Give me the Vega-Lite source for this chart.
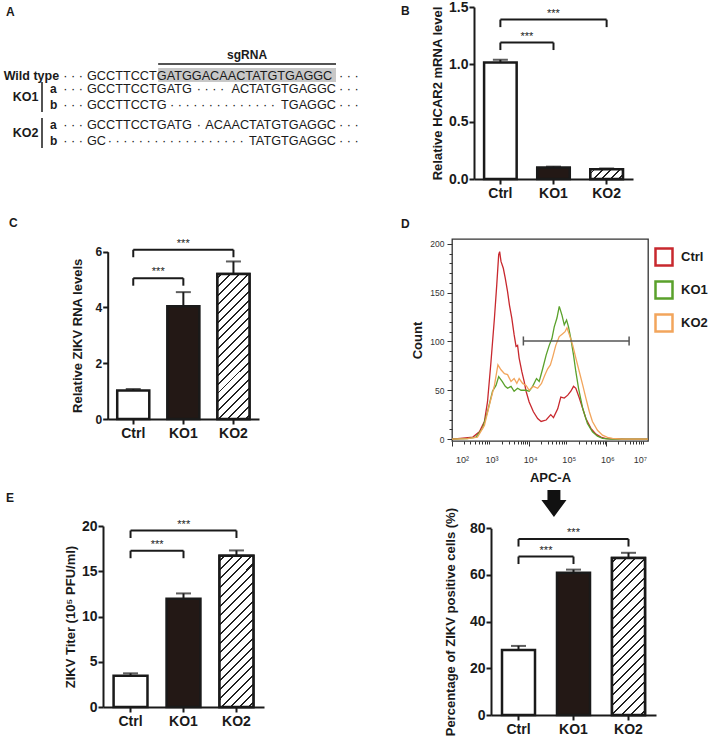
{
  "$schema": "https://vega.github.io/schema/vega-lite/v6.json",
  "padding": {"left": 3, "top": 0, "right": 0, "bottom": 0},
  "background": "white",
  "columns": 2,
  "bounds": "flush",
  "align": "each",
  "spacing": {"row": 60, "column": 91},
  "resolve": {"scale": {"color": "independent"}, "legend": {"color": "independent"}},
  "datasets": {
    "bars": [
      {"panel": "B", "group": "Ctrl", "mean": 1.015, "upper": 1.04},
      {"panel": "B", "group": "KO1", "mean": 0.1, "upper": 0.108},
      {"panel": "B", "group": "KO2", "mean": 0.084, "upper": 0.092},
      {"panel": "C", "group": "Ctrl", "mean": 1.02, "upper": 1.075},
      {"panel": "C", "group": "KO1", "mean": 4.04, "upper": 4.55},
      {"panel": "C", "group": "KO2", "mean": 5.2, "upper": 5.65},
      {"panel": "E", "group": "Ctrl", "mean": 3.45, "upper": 3.72},
      {"panel": "E", "group": "KO1", "mean": 11.95, "upper": 12.55},
      {"panel": "E", "group": "KO2", "mean": 16.7, "upper": 17.3},
      {"panel": "F", "group": "Ctrl", "mean": 27.8, "upper": 29.6},
      {"panel": "F", "group": "KO1", "mean": 61.0, "upper": 62.3},
      {"panel": "F", "group": "KO2", "mean": 67.3, "upper": 69.5}
    ],
    "sig": [
      {"panel": "B", "from": "Ctrl", "to": "KO1", "level": 1.19, "label": "***"},
      {"panel": "B", "from": "Ctrl", "to": "KO2", "level": 1.39, "label": "***"},
      {"panel": "C", "from": "Ctrl", "to": "KO1", "level": 5.05, "label": "***"},
      {"panel": "C", "from": "Ctrl", "to": "KO2", "level": 6.07, "label": "***"},
      {"panel": "E", "from": "Ctrl", "to": "KO1", "level": 17.27, "label": "***"},
      {"panel": "E", "from": "Ctrl", "to": "KO2", "level": 19.5, "label": "***"},
      {"panel": "F", "from": "Ctrl", "to": "KO1", "level": 67.9, "label": "***"},
      {"panel": "F", "from": "Ctrl", "to": "KO2", "level": 75.4, "label": "***"}
    ],
    "a_target": [{"name": "sgRNA", "start": 8, "end": 28, "mid": 18, "box_y": 75, "line_y": 64, "label_y": 55}],
    "a_lines": [{"y": 76}, {"y": 89}, {"y": 105}, {"y": 125}, {"y": 141}],
    "a_seq": [
      {"y": 76, "part": "5p", "nt": 0, "text": "GCCTTCCTGATGGACAACTATGTGAGGC"},
      {"y": 89, "part": "5p", "nt": 0, "text": "GCCTTCCTGATG"},
      {"y": 89, "part": "del", "nt": 12, "text": "· · · ·"},
      {"y": 89, "part": "3p", "nt": 28, "text": "ACTATGTGAGGC"},
      {"y": 105, "part": "5p", "nt": 0, "text": "GCCTTCCTG"},
      {"y": 105, "part": "del", "nt": 9, "text": "· · · · · · · · · · · · · ·"},
      {"y": 105, "part": "3p", "nt": 28, "text": "TGAGGC"},
      {"y": 125, "part": "5p", "nt": 0, "text": "GCCTTCCTGATG"},
      {"y": 125, "part": "del", "nt": 12, "text": "·"},
      {"y": 125, "part": "3p", "nt": 28, "text": "ACAACTATGTGAGGC"},
      {"y": 141, "part": "5p", "nt": 0, "text": "GC"},
      {"y": 141, "part": "del", "nt": 2, "text": "· · · · · · · · · · · · · · · · · ·"},
      {"y": 141, "part": "3p", "nt": 28, "text": "TATGTGAGGC"}
    ],
    "a_labels": [
      {"text": "A", "y": 12, "pos": -9.108, "kind": "panel"},
      {"text": "Wild type", "y": 76, "pos": -9.37, "kind": "line"},
      {"text": "KO1", "y": 97, "pos": -8.36, "kind": "line"},
      {"text": "KO2", "y": 133, "pos": -8.36, "kind": "line"},
      {"text": "a", "y": 89, "pos": -4.16, "kind": "allele"},
      {"text": "b", "y": 105, "pos": -4.16, "kind": "allele"},
      {"text": "a", "y": 125, "pos": -4.16, "kind": "allele"},
      {"text": "b", "y": 141, "pos": -4.16, "kind": "allele"}
    ],
    "a_bars": [{"pos": -5.06, "y1": 82, "y2": 112}, {"pos": -5.06, "y1": 118, "y2": 148}],
    "gate": [{"start": 3.85, "end": 6.59, "count": 100.5}],
    "arrow": [{"log_apc": 4.642, "count": -66}],
    "decades": [
      {"log_apc": 2, "label": "10²"},
      {"log_apc": 3, "label": "10³"},
      {"log_apc": 4, "label": "10⁴"},
      {"log_apc": 5, "label": "10⁵"},
      {"log_apc": 6, "label": "10⁶"},
      {"log_apc": 7, "label": "10⁷"}
    ],
    "hist": [
      {"sample": "Ctrl", "log_apc": 2.0, "count": 0},
      {"sample": "Ctrl", "log_apc": 2.28, "count": 1},
      {"sample": "Ctrl", "log_apc": 2.54, "count": 2},
      {"sample": "Ctrl", "log_apc": 2.71, "count": 7.5},
      {"sample": "Ctrl", "log_apc": 2.84, "count": 18},
      {"sample": "Ctrl", "log_apc": 2.92, "count": 38},
      {"sample": "Ctrl", "log_apc": 3.01, "count": 79},
      {"sample": "Ctrl", "log_apc": 3.1, "count": 124},
      {"sample": "Ctrl", "log_apc": 3.16, "count": 158},
      {"sample": "Ctrl", "log_apc": 3.21, "count": 189},
      {"sample": "Ctrl", "log_apc": 3.235, "count": 192},
      {"sample": "Ctrl", "log_apc": 3.27, "count": 182},
      {"sample": "Ctrl", "log_apc": 3.33, "count": 175},
      {"sample": "Ctrl", "log_apc": 3.38, "count": 165},
      {"sample": "Ctrl", "log_apc": 3.44, "count": 151},
      {"sample": "Ctrl", "log_apc": 3.49, "count": 137},
      {"sample": "Ctrl", "log_apc": 3.55, "count": 124},
      {"sample": "Ctrl", "log_apc": 3.61, "count": 107},
      {"sample": "Ctrl", "log_apc": 3.66, "count": 95},
      {"sample": "Ctrl", "log_apc": 3.7, "count": 96},
      {"sample": "Ctrl", "log_apc": 3.74, "count": 83},
      {"sample": "Ctrl", "log_apc": 3.81, "count": 69},
      {"sample": "Ctrl", "log_apc": 3.87, "count": 59},
      {"sample": "Ctrl", "log_apc": 3.92, "count": 49},
      {"sample": "Ctrl", "log_apc": 4.0, "count": 38},
      {"sample": "Ctrl", "log_apc": 4.11, "count": 28},
      {"sample": "Ctrl", "log_apc": 4.22, "count": 21},
      {"sample": "Ctrl", "log_apc": 4.31, "count": 18},
      {"sample": "Ctrl", "log_apc": 4.44, "count": 19.5},
      {"sample": "Ctrl", "log_apc": 4.56, "count": 25},
      {"sample": "Ctrl", "log_apc": 4.63, "count": 22},
      {"sample": "Ctrl", "log_apc": 4.74, "count": 31},
      {"sample": "Ctrl", "log_apc": 4.82, "count": 43},
      {"sample": "Ctrl", "log_apc": 4.91, "count": 42},
      {"sample": "Ctrl", "log_apc": 5.0, "count": 45},
      {"sample": "Ctrl", "log_apc": 5.08, "count": 49},
      {"sample": "Ctrl", "log_apc": 5.15, "count": 54},
      {"sample": "Ctrl", "log_apc": 5.21, "count": 52},
      {"sample": "Ctrl", "log_apc": 5.3, "count": 42},
      {"sample": "Ctrl", "log_apc": 5.39, "count": 31},
      {"sample": "Ctrl", "log_apc": 5.47, "count": 21},
      {"sample": "Ctrl", "log_apc": 5.6, "count": 11},
      {"sample": "Ctrl", "log_apc": 5.73, "count": 5},
      {"sample": "Ctrl", "log_apc": 5.86, "count": 2},
      {"sample": "Ctrl", "log_apc": 5.99, "count": 0.5},
      {"sample": "Ctrl", "log_apc": 6.5, "count": 0},
      {"sample": "Ctrl", "log_apc": 7.08, "count": 0},
      {"sample": "KO1", "log_apc": 2.0, "count": 0},
      {"sample": "KO1", "log_apc": 2.4, "count": 0.5},
      {"sample": "KO1", "log_apc": 2.62, "count": 2},
      {"sample": "KO1", "log_apc": 2.79, "count": 11},
      {"sample": "KO1", "log_apc": 2.92, "count": 28},
      {"sample": "KO1", "log_apc": 3.05, "count": 49},
      {"sample": "KO1", "log_apc": 3.14, "count": 55},
      {"sample": "KO1", "log_apc": 3.21, "count": 64},
      {"sample": "KO1", "log_apc": 3.3, "count": 59},
      {"sample": "KO1", "log_apc": 3.38, "count": 54},
      {"sample": "KO1", "log_apc": 3.44, "count": 52},
      {"sample": "KO1", "log_apc": 3.53, "count": 54},
      {"sample": "KO1", "log_apc": 3.61, "count": 49},
      {"sample": "KO1", "log_apc": 3.7, "count": 52},
      {"sample": "KO1", "log_apc": 3.79, "count": 50},
      {"sample": "KO1", "log_apc": 3.92, "count": 50},
      {"sample": "KO1", "log_apc": 4.0, "count": 49},
      {"sample": "KO1", "log_apc": 4.09, "count": 54},
      {"sample": "KO1", "log_apc": 4.19, "count": 62},
      {"sample": "KO1", "log_apc": 4.26, "count": 59},
      {"sample": "KO1", "log_apc": 4.35, "count": 72},
      {"sample": "KO1", "log_apc": 4.44, "count": 86},
      {"sample": "KO1", "log_apc": 4.52, "count": 96},
      {"sample": "KO1", "log_apc": 4.59, "count": 103},
      {"sample": "KO1", "log_apc": 4.65, "count": 115},
      {"sample": "KO1", "log_apc": 4.72, "count": 124},
      {"sample": "KO1", "log_apc": 4.78, "count": 136},
      {"sample": "KO1", "log_apc": 4.85, "count": 127},
      {"sample": "KO1", "log_apc": 4.91, "count": 117},
      {"sample": "KO1", "log_apc": 4.97, "count": 122},
      {"sample": "KO1", "log_apc": 5.02, "count": 115},
      {"sample": "KO1", "log_apc": 5.08, "count": 103},
      {"sample": "KO1", "log_apc": 5.15, "count": 86},
      {"sample": "KO1", "log_apc": 5.21, "count": 69},
      {"sample": "KO1", "log_apc": 5.28, "count": 52},
      {"sample": "KO1", "log_apc": 5.39, "count": 31},
      {"sample": "KO1", "log_apc": 5.51, "count": 16},
      {"sample": "KO1", "log_apc": 5.64, "count": 7.5},
      {"sample": "KO1", "log_apc": 5.77, "count": 3},
      {"sample": "KO1", "log_apc": 5.9, "count": 0.7},
      {"sample": "KO1", "log_apc": 6.1, "count": 0},
      {"sample": "KO1", "log_apc": 7.08, "count": 0},
      {"sample": "KO2", "log_apc": 2.0, "count": 0},
      {"sample": "KO2", "log_apc": 2.4, "count": 0.5},
      {"sample": "KO2", "log_apc": 2.66, "count": 2},
      {"sample": "KO2", "log_apc": 2.84, "count": 14},
      {"sample": "KO2", "log_apc": 2.97, "count": 35},
      {"sample": "KO2", "log_apc": 3.1, "count": 55},
      {"sample": "KO2", "log_apc": 3.19, "count": 76},
      {"sample": "KO2", "log_apc": 3.27, "count": 71},
      {"sample": "KO2", "log_apc": 3.36, "count": 67},
      {"sample": "KO2", "log_apc": 3.44, "count": 66},
      {"sample": "KO2", "log_apc": 3.53, "count": 59},
      {"sample": "KO2", "log_apc": 3.61, "count": 62},
      {"sample": "KO2", "log_apc": 3.68, "count": 57},
      {"sample": "KO2", "log_apc": 3.74, "count": 62},
      {"sample": "KO2", "log_apc": 3.83, "count": 57},
      {"sample": "KO2", "log_apc": 3.92, "count": 55},
      {"sample": "KO2", "log_apc": 4.0, "count": 50},
      {"sample": "KO2", "log_apc": 4.11, "count": 54},
      {"sample": "KO2", "log_apc": 4.22, "count": 52},
      {"sample": "KO2", "log_apc": 4.32, "count": 57},
      {"sample": "KO2", "log_apc": 4.41, "count": 66},
      {"sample": "KO2", "log_apc": 4.48, "count": 72},
      {"sample": "KO2", "log_apc": 4.55, "count": 76},
      {"sample": "KO2", "log_apc": 4.61, "count": 84},
      {"sample": "KO2", "log_apc": 4.69, "count": 96},
      {"sample": "KO2", "log_apc": 4.78, "count": 105},
      {"sample": "KO2", "log_apc": 4.87, "count": 108},
      {"sample": "KO2", "log_apc": 4.93, "count": 110},
      {"sample": "KO2", "log_apc": 4.98, "count": 114},
      {"sample": "KO2", "log_apc": 5.04, "count": 107},
      {"sample": "KO2", "log_apc": 5.13, "count": 96},
      {"sample": "KO2", "log_apc": 5.21, "count": 83},
      {"sample": "KO2", "log_apc": 5.3, "count": 69},
      {"sample": "KO2", "log_apc": 5.39, "count": 55},
      {"sample": "KO2", "log_apc": 5.47, "count": 42},
      {"sample": "KO2", "log_apc": 5.56, "count": 28},
      {"sample": "KO2", "log_apc": 5.64, "count": 18},
      {"sample": "KO2", "log_apc": 5.77, "count": 9},
      {"sample": "KO2", "log_apc": 5.9, "count": 4},
      {"sample": "KO2", "log_apc": 6.03, "count": 1.7},
      {"sample": "KO2", "log_apc": 6.16, "count": 0.7},
      {"sample": "KO2", "log_apc": 6.4, "count": 0},
      {"sample": "KO2", "log_apc": 7.08, "count": 0}
    ]
  },
  "concat": [
    {
      "width": 258, "height": 172,
      "layer": [
        {"data": {"name": "a_target"}, "mark": {"type": "rule", "stroke": "#c8c8c8", "strokeWidth": 14, "strokeCap": "butt"},
         "encoding": {"x": {"field": "start", "type": "quantitative", "scale": {"domain": [1.799, 30.811], "nice": false, "zero": false}, "axis": null},
                      "x2": {"field": "end"},
                      "y": {"field": "box_y", "type": "quantitative", "scale": {"domain": [7, 179], "reverse": true, "nice": false, "zero": false}, "axis": null}}},
        {"data": {"name": "a_target"}, "mark": {"type": "rule", "stroke": "#1a1a1a", "strokeWidth": 1.5},
         "encoding": {"x": {"field": "start", "type": "quantitative"}, "x2": {"field": "end"}, "y": {"field": "line_y", "type": "quantitative"}}},
        {"data": {"name": "a_target"}, "mark": {"type": "text", "fontSize": 12, "fontWeight": "bold", "align": "center", "baseline": "middle", "color": "#1a1a1a"},
         "encoding": {"x": {"field": "mid", "type": "quantitative"}, "y": {"field": "label_y", "type": "quantitative"}, "text": {"field": "name"}}},
        {"data": {"name": "a_seq"}, "transform": [{"filter": "datum.part === '5p'"}], "mark": {"type": "text", "fontSize": 12.7, "align": "left", "baseline": "middle", "color": "#1a1a1a"},
         "encoding": {"x": {"field": "nt", "type": "quantitative"}, "y": {"field": "y", "type": "quantitative"}, "text": {"field": "text"}}},
        {"data": {"name": "a_seq"}, "transform": [{"filter": "datum.part === '3p'"}], "mark": {"type": "text", "fontSize": 12.7, "align": "right", "baseline": "middle", "color": "#1a1a1a"},
         "encoding": {"x": {"field": "nt", "type": "quantitative"}, "y": {"field": "y", "type": "quantitative"}, "text": {"field": "text"}}},
        {"data": {"name": "a_seq"}, "transform": [{"filter": "datum.part === 'del'"}], "mark": {"type": "text", "fontSize": 12.7, "align": "left", "baseline": "middle", "dx": 3, "color": "#1a1a1a"},
         "encoding": {"x": {"field": "nt", "type": "quantitative"}, "y": {"field": "y", "type": "quantitative"}, "text": {"field": "text"}}},
        {"data": {"name": "a_lines"}, "mark": {"type": "text", "fontSize": 12.7, "align": "right", "baseline": "middle", "dx": -4, "text": "· · ·", "color": "#1a1a1a"},
         "encoding": {"x": {"datum": 0, "type": "quantitative"}, "y": {"field": "y", "type": "quantitative"}}},
        {"data": {"name": "a_lines"}, "mark": {"type": "text", "fontSize": 12.7, "align": "left", "baseline": "middle", "dx": 3, "text": "· · ·", "color": "#1a1a1a"},
         "encoding": {"x": {"datum": 28, "type": "quantitative"}, "y": {"field": "y", "type": "quantitative"}}},
        {"data": {"name": "a_labels"}, "transform": [{"filter": "datum.kind === 'panel'"}], "mark": {"type": "text", "fontSize": 12, "fontWeight": "bold", "align": "left", "baseline": "middle", "color": "#1a1a1a"},
         "encoding": {"x": {"field": "pos", "type": "quantitative"}, "y": {"field": "y", "type": "quantitative"}, "text": {"field": "text"}}},
        {"data": {"name": "a_labels"}, "transform": [{"filter": "datum.kind === 'line'"}], "mark": {"type": "text", "fontSize": 12.5, "fontWeight": "bold", "align": "left", "baseline": "middle", "color": "#1a1a1a"},
         "encoding": {"x": {"field": "pos", "type": "quantitative"}, "y": {"field": "y", "type": "quantitative"}, "text": {"field": "text"}}},
        {"data": {"name": "a_labels"}, "transform": [{"filter": "datum.kind === 'allele'"}], "mark": {"type": "text", "fontSize": 12, "fontWeight": "bold", "align": "left", "baseline": "middle", "color": "#1a1a1a"},
         "encoding": {"x": {"field": "pos", "type": "quantitative"}, "y": {"field": "y", "type": "quantitative"}, "text": {"field": "text"}}},
        {"data": {"name": "a_bars"}, "mark": {"type": "rule", "stroke": "#1a1a1a", "strokeWidth": 1.5},
         "encoding": {"x": {"field": "pos", "type": "quantitative"}, "y": {"field": "y1", "type": "quantitative"}, "y2": {"field": "y2"}}}
      ]
    },
    {
      "width": 181, "height": 172,
      "layer": [
        {"data": {"name": "bars"}, "transform": [{"filter": "datum.panel === 'B'"}],
         "mark": {"type": "bar", "stroke": "#1a1a1a", "strokeWidth": 2.5},
         "encoding": {
           "x": {"field": "group", "type": "nominal", "scale": {"domain": ["Ctrl", "KO1", "KO2"], "range": [22, 181], "paddingInner": 0.387, "paddingOuter": 0.19}, "axis": {"title": null}},
           "y": {"field": "mean", "type": "quantitative", "scale": {"domain": [0, 1.5], "nice": false}, "axis": {"title": "Relative HCAR2 mRNA level", "values": [0, 0.5, 1, 1.5], "format": ".1f", "offset": -22, "titlePadding": 4}},
           "fill": {"condition": {"test": "datum.group === 'KO1'", "value": "#231815"}, "value": "#ffffff"}}},
        {"data": {"name": "bars"}, "transform": [{"filter": "datum.panel === 'B' && datum.group === 'KO2'"}],
         "mark": {"type": "bar", "stroke": "#1a1a1a", "strokeWidth": 2.5,
           "fill": {"gradient": "linear", "x1": 0, "y1": 0, "x2": 1.1916, "y2": 0.3524, "stops": [
             {"offset": 0, "color": "#fff"},
             {"offset": 0.08, "color": "#fff"}, {"offset": 0.08, "color": "#222"}, {"offset": 0.125, "color": "#222"}, {"offset": 0.125, "color": "#fff"},
             {"offset": 0.28, "color": "#fff"}, {"offset": 0.28, "color": "#222"}, {"offset": 0.325, "color": "#222"}, {"offset": 0.325, "color": "#fff"},
             {"offset": 0.48, "color": "#fff"}, {"offset": 0.48, "color": "#222"}, {"offset": 0.525, "color": "#222"}, {"offset": 0.525, "color": "#fff"},
             {"offset": 0.68, "color": "#fff"}, {"offset": 0.68, "color": "#222"}, {"offset": 0.725, "color": "#222"}, {"offset": 0.725, "color": "#fff"},
             {"offset": 0.88, "color": "#fff"}, {"offset": 0.88, "color": "#222"}, {"offset": 0.925, "color": "#222"}, {"offset": 0.925, "color": "#fff"},
             {"offset": 1, "color": "#fff"}]}},
         "encoding": {"x": {"field": "group", "type": "nominal"}, "y": {"field": "mean", "type": "quantitative"}}},
        {"data": {"name": "bars"}, "transform": [{"filter": "datum.panel === 'B'"}], "mark": {"type": "rule", "color": "#1a1a1a", "strokeWidth": 2},
         "encoding": {"x": {"field": "group", "type": "nominal"}, "y": {"field": "mean", "type": "quantitative"}, "y2": {"field": "upper"}}},
        {"data": {"name": "bars"}, "transform": [{"filter": "datum.panel === 'B'"}], "mark": {"type": "tick", "color": "#1a1a1a", "thickness": 2, "size": 15},
         "encoding": {"x": {"field": "group", "type": "nominal"}, "y": {"field": "upper", "type": "quantitative"}}},
        {"data": {"name": "sig"}, "transform": [{"filter": "datum.panel === 'B'"}], "mark": {"type": "rule", "color": "#1a1a1a", "strokeWidth": 2},
         "encoding": {"x": {"field": "from", "type": "nominal"}, "x2": {"field": "to"}, "y": {"field": "level", "type": "quantitative"}}},
        {"data": {"name": "sig"}, "transform": [{"filter": "datum.panel === 'B'"}], "mark": {"type": "rule", "color": "#1a1a1a", "strokeWidth": 2, "y2Offset": 7.5},
         "encoding": {"x": {"field": "from", "type": "nominal"}, "y": {"field": "level", "type": "quantitative"}, "y2": {"field": "level"}}},
        {"data": {"name": "sig"}, "transform": [{"filter": "datum.panel === 'B'"}], "mark": {"type": "rule", "color": "#1a1a1a", "strokeWidth": 2, "y2Offset": 7.5},
         "encoding": {"x": {"field": "to", "type": "nominal"}, "y": {"field": "level", "type": "quantitative"}, "y2": {"field": "level"}}},
        {"data": {"name": "sig"}, "transform": [{"filter": "datum.panel === 'B' && datum.to === 'KO1'"}], "mark": {"type": "text", "fontSize": 11, "dx": 26.6, "dy": -3, "baseline": "alphabetic", "color": "#1a1a1a"},
         "encoding": {"x": {"field": "from", "type": "nominal"}, "y": {"field": "level", "type": "quantitative"}, "text": {"field": "label"}}},
        {"data": {"name": "sig"}, "transform": [{"filter": "datum.panel === 'B' && datum.to === 'KO2'"}], "mark": {"type": "text", "fontSize": 11, "dx": 53.1, "dy": -3, "baseline": "alphabetic", "color": "#1a1a1a"},
         "encoding": {"x": {"field": "from", "type": "nominal"}, "y": {"field": "level", "type": "quantitative"}, "text": {"field": "label"}}},
        {"data": {"values": [{"letter": "B"}]}, "mark": {"type": "text", "fontSize": 12, "fontWeight": "bold", "align": "left", "baseline": "alphabetic", "dx": -99.4, "dy": 8, "color": "#1a1a1a"},
         "encoding": {"x": {"datum": "Ctrl", "type": "nominal"}, "y": {"datum": 1.5, "type": "quantitative"}, "text": {"field": "letter"}}}
      ]
    },
    {
      "width": 156, "height": 180,
      "layer": [
        {"data": {"name": "bars"}, "transform": [{"filter": "datum.panel === 'C'"}],
         "mark": {"type": "bar", "stroke": "#1a1a1a", "strokeWidth": 2.5},
         "encoding": {
           "x": {"field": "group", "type": "nominal", "scale": {"domain": ["Ctrl", "KO1", "KO2"], "range": [4.7, 156], "paddingInner": 0.36, "paddingOuter": 0.19}, "axis": {"title": null}},
           "y": {"field": "mean", "type": "quantitative", "scale": {"domain": [0, 6], "nice": false, "range": [180, 12.7]}, "axis": {"title": "Relative ZIKV RNA levels", "values": [0, 2, 4, 6], "offset": -4.7, "titlePadding": 11, "labelFontSize": 12}},
           "fill": {"condition": {"test": "datum.group === 'KO1'", "value": "#231815"}, "value": "#ffffff"}}},
        {"data": {"name": "bars"}, "transform": [{"filter": "datum.panel === 'C' && datum.group === 'KO2'"}],
         "mark": {"type": "bar", "stroke": "#1a1a1a", "strokeWidth": 2.5,
           "fill": {"gradient": "linear", "x1": 0, "y1": 0, "x2": 0.2569, "y2": 1.164, "stops": [
             {"offset": 0, "color": "#fff"},
             {"offset": 0.02, "color": "#fff"}, {"offset": 0.02, "color": "#222"}, {"offset": 0.031, "color": "#222"}, {"offset": 0.031, "color": "#fff"},
             {"offset": 0.07, "color": "#fff"}, {"offset": 0.07, "color": "#222"}, {"offset": 0.081, "color": "#222"}, {"offset": 0.081, "color": "#fff"},
             {"offset": 0.12, "color": "#fff"}, {"offset": 0.12, "color": "#222"}, {"offset": 0.131, "color": "#222"}, {"offset": 0.131, "color": "#fff"},
             {"offset": 0.17, "color": "#fff"}, {"offset": 0.17, "color": "#222"}, {"offset": 0.181, "color": "#222"}, {"offset": 0.181, "color": "#fff"},
             {"offset": 0.22, "color": "#fff"}, {"offset": 0.22, "color": "#222"}, {"offset": 0.231, "color": "#222"}, {"offset": 0.231, "color": "#fff"},
             {"offset": 0.27, "color": "#fff"}, {"offset": 0.27, "color": "#222"}, {"offset": 0.281, "color": "#222"}, {"offset": 0.281, "color": "#fff"},
             {"offset": 0.32, "color": "#fff"}, {"offset": 0.32, "color": "#222"}, {"offset": 0.331, "color": "#222"}, {"offset": 0.331, "color": "#fff"},
             {"offset": 0.37, "color": "#fff"}, {"offset": 0.37, "color": "#222"}, {"offset": 0.381, "color": "#222"}, {"offset": 0.381, "color": "#fff"},
             {"offset": 0.42, "color": "#fff"}, {"offset": 0.42, "color": "#222"}, {"offset": 0.431, "color": "#222"}, {"offset": 0.431, "color": "#fff"},
             {"offset": 0.47, "color": "#fff"}, {"offset": 0.47, "color": "#222"}, {"offset": 0.481, "color": "#222"}, {"offset": 0.481, "color": "#fff"},
             {"offset": 0.52, "color": "#fff"}, {"offset": 0.52, "color": "#222"}, {"offset": 0.531, "color": "#222"}, {"offset": 0.531, "color": "#fff"},
             {"offset": 0.57, "color": "#fff"}, {"offset": 0.57, "color": "#222"}, {"offset": 0.581, "color": "#222"}, {"offset": 0.581, "color": "#fff"},
             {"offset": 0.62, "color": "#fff"}, {"offset": 0.62, "color": "#222"}, {"offset": 0.631, "color": "#222"}, {"offset": 0.631, "color": "#fff"},
             {"offset": 0.67, "color": "#fff"}, {"offset": 0.67, "color": "#222"}, {"offset": 0.681, "color": "#222"}, {"offset": 0.681, "color": "#fff"},
             {"offset": 0.72, "color": "#fff"}, {"offset": 0.72, "color": "#222"}, {"offset": 0.731, "color": "#222"}, {"offset": 0.731, "color": "#fff"},
             {"offset": 0.77, "color": "#fff"}, {"offset": 0.77, "color": "#222"}, {"offset": 0.781, "color": "#222"}, {"offset": 0.781, "color": "#fff"},
             {"offset": 0.82, "color": "#fff"}, {"offset": 0.82, "color": "#222"}, {"offset": 0.831, "color": "#222"}, {"offset": 0.831, "color": "#fff"},
             {"offset": 0.87, "color": "#fff"}, {"offset": 0.87, "color": "#222"}, {"offset": 0.881, "color": "#222"}, {"offset": 0.881, "color": "#fff"},
             {"offset": 0.92, "color": "#fff"}, {"offset": 0.92, "color": "#222"}, {"offset": 0.931, "color": "#222"}, {"offset": 0.931, "color": "#fff"},
             {"offset": 0.97, "color": "#fff"}, {"offset": 0.97, "color": "#222"}, {"offset": 0.981, "color": "#222"}, {"offset": 0.981, "color": "#fff"},
             {"offset": 1, "color": "#fff"}]}},
         "encoding": {"x": {"field": "group", "type": "nominal"}, "y": {"field": "mean", "type": "quantitative"}}},
        {"data": {"name": "bars"}, "transform": [{"filter": "datum.panel === 'C'"}], "mark": {"type": "rule", "color": "#1a1a1a", "strokeWidth": 2},
         "encoding": {"x": {"field": "group", "type": "nominal"}, "y": {"field": "mean", "type": "quantitative"}, "y2": {"field": "upper"}}},
        {"data": {"name": "bars"}, "transform": [{"filter": "datum.panel === 'C'"}], "mark": {"type": "tick", "color": "#1a1a1a", "thickness": 2, "size": 15},
         "encoding": {"x": {"field": "group", "type": "nominal"}, "y": {"field": "upper", "type": "quantitative"}}},
        {"data": {"name": "sig"}, "transform": [{"filter": "datum.panel === 'C'"}], "mark": {"type": "rule", "color": "#1a1a1a", "strokeWidth": 2},
         "encoding": {"x": {"field": "from", "type": "nominal"}, "x2": {"field": "to"}, "y": {"field": "level", "type": "quantitative"}}},
        {"data": {"name": "sig"}, "transform": [{"filter": "datum.panel === 'C'"}], "mark": {"type": "rule", "color": "#1a1a1a", "strokeWidth": 2, "y2Offset": 7.5},
         "encoding": {"x": {"field": "from", "type": "nominal"}, "y": {"field": "level", "type": "quantitative"}, "y2": {"field": "level"}}},
        {"data": {"name": "sig"}, "transform": [{"filter": "datum.panel === 'C'"}], "mark": {"type": "rule", "color": "#1a1a1a", "strokeWidth": 2, "y2Offset": 7.5},
         "encoding": {"x": {"field": "to", "type": "nominal"}, "y": {"field": "level", "type": "quantitative"}, "y2": {"field": "level"}}},
        {"data": {"name": "sig"}, "transform": [{"filter": "datum.panel === 'C' && datum.to === 'KO1'"}], "mark": {"type": "text", "fontSize": 11, "dx": 25, "dy": -3, "baseline": "alphabetic", "color": "#1a1a1a"},
         "encoding": {"x": {"field": "from", "type": "nominal"}, "y": {"field": "level", "type": "quantitative"}, "text": {"field": "label"}}},
        {"data": {"name": "sig"}, "transform": [{"filter": "datum.panel === 'C' && datum.to === 'KO2'"}], "mark": {"type": "text", "fontSize": 11, "dx": 50, "dy": -3, "baseline": "alphabetic", "color": "#1a1a1a"},
         "encoding": {"x": {"field": "from", "type": "nominal"}, "y": {"field": "level", "type": "quantitative"}, "text": {"field": "label"}}},
        {"data": {"values": [{"letter": "C"}]}, "mark": {"type": "text", "fontSize": 12, "fontWeight": "bold", "align": "left", "baseline": "alphabetic", "dx": -124.25, "dy": -24.7, "color": "#1a1a1a"},
         "encoding": {"x": {"datum": "Ctrl", "type": "nominal"}, "y": {"datum": 6, "type": "quantitative"}, "text": {"field": "letter"}}}
      ]
    },
    {
      "width": 196, "height": 202,
      "view": {"stroke": "#333333", "strokeWidth": 1.3},
      "resolve": {"scale": {"x": "independent", "y": "independent"}},
      "layer": [
        {"layer": [
          {"data": {"name": "hist"}, "mark": {"type": "line", "strokeWidth": 1.3},
           "encoding": {
             "x": {"field": "log_apc", "type": "quantitative", "scale": {"domain": [2, 7.08], "nice": false, "zero": false},
                   "axis": {"orient": "bottom", "title": "APC-A", "titlePadding": 25, "domain": false, "tickWidth": 1, "tickColor": "#333333", "tickSize": 5,
                            "values": [2, 3, 4, 5, 6, 7], "labels": false}},
             "y": {"field": "count", "type": "quantitative", "scale": {"domain": [-2, 205], "nice": false, "zero": false},
                   "axis": {"orient": "left", "title": "Count", "titlePadding": 5, "domain": false, "tickWidth": 1, "tickColor": "#333333", "tickSize": 5,
                            "values": [0, 50, 100, 150, 200],
                            "labelFontSize": 8.5, "labelFontWeight": "normal", "labelColor": "#333333", "labelOverlap": false, "labelPadding": 3}},
             "color": {"field": "sample", "type": "nominal", "scale": {"domain": ["Ctrl", "KO1", "KO2"], "range": ["#c8282e", "#5aa12b", "#f2a55c"]},
                       "legend": {"title": null, "orient": "none", "legendX": 202, "legendY": 8, "symbolType": "square", "symbolSize": 289, "symbolStrokeWidth": 2.5, "symbolFillColor": "#ffffff", "labelFontSize": 13, "labelFontWeight": "bold", "labelColor": "#1a1a1a", "labelOffset": 7, "rowPadding": 5, "padding": 0}}}},
          {"data": {"name": "gate"}, "mark": {"type": "rule", "color": "#555555", "strokeWidth": 1.5},
           "encoding": {"x": {"field": "start", "type": "quantitative"}, "x2": {"field": "end"}, "y": {"field": "count", "type": "quantitative"}}},
          {"data": {"name": "gate"}, "mark": {"type": "rule", "color": "#555555", "strokeWidth": 1.5, "yOffset": -4.5, "y2Offset": 4.5},
           "encoding": {"x": {"field": "start", "type": "quantitative"}, "y": {"field": "count", "type": "quantitative"}, "y2": {"field": "count"}}},
          {"data": {"name": "gate"}, "mark": {"type": "rule", "color": "#555555", "strokeWidth": 1.5, "yOffset": -4.5, "y2Offset": 4.5},
           "encoding": {"x": {"field": "end", "type": "quantitative"}, "y": {"field": "count", "type": "quantitative"}, "y2": {"field": "count"}}},
          {"data": {"name": "decades"}, "transform": [{"filter": "datum.log_apc === 2"}], "mark": {"type": "text", "fontSize": 9, "align": "left", "baseline": "alphabetic", "dx": 4, "dy": 22, "color": "#333333"},
           "encoding": {"x": {"field": "log_apc", "type": "quantitative"}, "y": {"datum": -2, "type": "quantitative"}, "text": {"field": "label"}}},
          {"data": {"name": "decades"}, "transform": [{"filter": "datum.log_apc > 2 && datum.log_apc < 7"}], "mark": {"type": "text", "fontSize": 9, "align": "center", "baseline": "alphabetic", "dx": 1.5, "dy": 22, "color": "#333333"},
           "encoding": {"x": {"field": "log_apc", "type": "quantitative"}, "y": {"datum": -2, "type": "quantitative"}, "text": {"field": "label"}}},
          {"data": {"name": "decades"}, "transform": [{"filter": "datum.log_apc === 7"}], "mark": {"type": "text", "fontSize": 9, "align": "right", "baseline": "alphabetic", "dx": 2, "dy": 22, "color": "#333333"},
           "encoding": {"x": {"field": "log_apc", "type": "quantitative"}, "y": {"datum": -2, "type": "quantitative"}, "text": {"field": "label"}}},
          {"data": {"values": [{"letter": "D"}]}, "mark": {"type": "text", "fontSize": 12, "fontWeight": "bold", "align": "left", "baseline": "alphabetic", "dx": -51, "dy": -11, "color": "#1a1a1a"},
           "encoding": {"x": {"datum": 2, "type": "quantitative"}, "y": {"datum": 205, "type": "quantitative"}, "text": {"field": "letter"}}}
        ]},
        {"data": {"name": "arrow"}, "mark": {"type": "point", "shape": "M-0.48,-1L0.48,-1L0.48,-0.26L0.93,-0.26L0,1L-0.93,-0.26L-0.48,-0.26Z", "size": 729, "filled": true, "color": "#111111", "opacity": 1, "strokeWidth": 0},
         "encoding": {
           "x": {"field": "log_apc", "type": "quantitative", "scale": {"domain": [2, 7.08], "nice": false, "zero": false},
                 "axis": {"orient": "bottom", "title": null, "labels": false, "domain": false, "tickWidth": 1, "tickColor": "#333333", "tickSize": 3,
                          "values": [2.301, 2.477, 2.602, 2.699, 2.778, 2.845, 2.903, 2.954, 3.301, 3.477, 3.602, 3.699, 3.778, 3.845, 3.903, 3.954, 4.301, 4.477, 4.602, 4.699, 4.778, 4.845, 4.903, 4.954, 5.301, 5.477, 5.602, 5.699, 5.778, 5.845, 5.903, 5.954, 6.301, 6.477, 6.602, 6.699, 6.778, 6.845, 6.903, 6.954]}},
           "y": {"field": "count", "type": "quantitative", "scale": {"domain": [-2, 205], "nice": false, "zero": false},
                 "axis": {"orient": "left", "title": null, "labels": false, "domain": false, "tickWidth": 1, "tickColor": "#333333", "tickSize": 3,
                          "values": [10, 20, 30, 40, 60, 70, 80, 90, 110, 120, 130, 140, 160, 170, 180, 190]}}}}
      ]
    },
    {
      "width": 161, "height": 206,
      "layer": [
        {"data": {"name": "bars"}, "transform": [{"filter": "datum.panel === 'E'"}],
         "mark": {"type": "bar", "stroke": "#1a1a1a", "strokeWidth": 2.5},
         "encoding": {
           "x": {"field": "group", "type": "nominal", "scale": {"domain": ["Ctrl", "KO1", "KO2"], "paddingInner": 0.36, "paddingOuter": 0.2}, "axis": {"title": null}},
           "y": {"field": "mean", "type": "quantitative", "scale": {"domain": [0, 20], "nice": false, "range": [206, 25]}, "axis": {"title": "ZIKV Titer (10⁵ PFU/ml)", "values": [0, 5, 10, 15, 20], "titlePadding": 4}},
           "fill": {"condition": {"test": "datum.group === 'KO1'", "value": "#231815"}, "value": "#ffffff"}}},
        {"data": {"name": "bars"}, "transform": [{"filter": "datum.panel === 'E' && datum.group === 'KO2'"}],
         "mark": {"type": "bar", "stroke": "#1a1a1a", "strokeWidth": 2.5,
           "fill": {"gradient": "linear", "x1": 0, "y1": 0, "x2": 0.2627, "y2": 1.1661, "stops": [
             {"offset": 0, "color": "#fff"},
             {"offset": 0.02, "color": "#fff"}, {"offset": 0.02, "color": "#222"}, {"offset": 0.031, "color": "#222"}, {"offset": 0.031, "color": "#fff"},
             {"offset": 0.07, "color": "#fff"}, {"offset": 0.07, "color": "#222"}, {"offset": 0.081, "color": "#222"}, {"offset": 0.081, "color": "#fff"},
             {"offset": 0.12, "color": "#fff"}, {"offset": 0.12, "color": "#222"}, {"offset": 0.131, "color": "#222"}, {"offset": 0.131, "color": "#fff"},
             {"offset": 0.17, "color": "#fff"}, {"offset": 0.17, "color": "#222"}, {"offset": 0.181, "color": "#222"}, {"offset": 0.181, "color": "#fff"},
             {"offset": 0.22, "color": "#fff"}, {"offset": 0.22, "color": "#222"}, {"offset": 0.231, "color": "#222"}, {"offset": 0.231, "color": "#fff"},
             {"offset": 0.27, "color": "#fff"}, {"offset": 0.27, "color": "#222"}, {"offset": 0.281, "color": "#222"}, {"offset": 0.281, "color": "#fff"},
             {"offset": 0.32, "color": "#fff"}, {"offset": 0.32, "color": "#222"}, {"offset": 0.331, "color": "#222"}, {"offset": 0.331, "color": "#fff"},
             {"offset": 0.37, "color": "#fff"}, {"offset": 0.37, "color": "#222"}, {"offset": 0.381, "color": "#222"}, {"offset": 0.381, "color": "#fff"},
             {"offset": 0.42, "color": "#fff"}, {"offset": 0.42, "color": "#222"}, {"offset": 0.431, "color": "#222"}, {"offset": 0.431, "color": "#fff"},
             {"offset": 0.47, "color": "#fff"}, {"offset": 0.47, "color": "#222"}, {"offset": 0.481, "color": "#222"}, {"offset": 0.481, "color": "#fff"},
             {"offset": 0.52, "color": "#fff"}, {"offset": 0.52, "color": "#222"}, {"offset": 0.531, "color": "#222"}, {"offset": 0.531, "color": "#fff"},
             {"offset": 0.57, "color": "#fff"}, {"offset": 0.57, "color": "#222"}, {"offset": 0.581, "color": "#222"}, {"offset": 0.581, "color": "#fff"},
             {"offset": 0.62, "color": "#fff"}, {"offset": 0.62, "color": "#222"}, {"offset": 0.631, "color": "#222"}, {"offset": 0.631, "color": "#fff"},
             {"offset": 0.67, "color": "#fff"}, {"offset": 0.67, "color": "#222"}, {"offset": 0.681, "color": "#222"}, {"offset": 0.681, "color": "#fff"},
             {"offset": 0.72, "color": "#fff"}, {"offset": 0.72, "color": "#222"}, {"offset": 0.731, "color": "#222"}, {"offset": 0.731, "color": "#fff"},
             {"offset": 0.77, "color": "#fff"}, {"offset": 0.77, "color": "#222"}, {"offset": 0.781, "color": "#222"}, {"offset": 0.781, "color": "#fff"},
             {"offset": 0.82, "color": "#fff"}, {"offset": 0.82, "color": "#222"}, {"offset": 0.831, "color": "#222"}, {"offset": 0.831, "color": "#fff"},
             {"offset": 0.87, "color": "#fff"}, {"offset": 0.87, "color": "#222"}, {"offset": 0.881, "color": "#222"}, {"offset": 0.881, "color": "#fff"},
             {"offset": 0.92, "color": "#fff"}, {"offset": 0.92, "color": "#222"}, {"offset": 0.931, "color": "#222"}, {"offset": 0.931, "color": "#fff"},
             {"offset": 0.97, "color": "#fff"}, {"offset": 0.97, "color": "#222"}, {"offset": 0.981, "color": "#222"}, {"offset": 0.981, "color": "#fff"},
             {"offset": 1, "color": "#fff"}]}},
         "encoding": {"x": {"field": "group", "type": "nominal"}, "y": {"field": "mean", "type": "quantitative"}}},
        {"data": {"name": "bars"}, "transform": [{"filter": "datum.panel === 'E'"}], "mark": {"type": "rule", "color": "#1a1a1a", "strokeWidth": 2},
         "encoding": {"x": {"field": "group", "type": "nominal"}, "y": {"field": "mean", "type": "quantitative"}, "y2": {"field": "upper"}}},
        {"data": {"name": "bars"}, "transform": [{"filter": "datum.panel === 'E'"}], "mark": {"type": "tick", "color": "#1a1a1a", "thickness": 2, "size": 15},
         "encoding": {"x": {"field": "group", "type": "nominal"}, "y": {"field": "upper", "type": "quantitative"}}},
        {"data": {"name": "sig"}, "transform": [{"filter": "datum.panel === 'E'"}], "mark": {"type": "rule", "color": "#1a1a1a", "strokeWidth": 2},
         "encoding": {"x": {"field": "from", "type": "nominal"}, "x2": {"field": "to"}, "y": {"field": "level", "type": "quantitative"}}},
        {"data": {"name": "sig"}, "transform": [{"filter": "datum.panel === 'E'"}], "mark": {"type": "rule", "color": "#1a1a1a", "strokeWidth": 2, "y2Offset": 7.5},
         "encoding": {"x": {"field": "from", "type": "nominal"}, "y": {"field": "level", "type": "quantitative"}, "y2": {"field": "level"}}},
        {"data": {"name": "sig"}, "transform": [{"filter": "datum.panel === 'E'"}], "mark": {"type": "rule", "color": "#1a1a1a", "strokeWidth": 2, "y2Offset": 7.5},
         "encoding": {"x": {"field": "to", "type": "nominal"}, "y": {"field": "level", "type": "quantitative"}, "y2": {"field": "level"}}},
        {"data": {"name": "sig"}, "transform": [{"filter": "datum.panel === 'E' && datum.to === 'KO1'"}], "mark": {"type": "text", "fontSize": 11, "dx": 26.6, "dy": -3, "baseline": "alphabetic", "color": "#1a1a1a"},
         "encoding": {"x": {"field": "from", "type": "nominal"}, "y": {"field": "level", "type": "quantitative"}, "text": {"field": "label"}}},
        {"data": {"name": "sig"}, "transform": [{"filter": "datum.panel === 'E' && datum.to === 'KO2'"}], "mark": {"type": "text", "fontSize": 11, "dx": 53.2, "dy": -3, "baseline": "alphabetic", "color": "#1a1a1a"},
         "encoding": {"x": {"field": "from", "type": "nominal"}, "y": {"field": "level", "type": "quantitative"}, "text": {"field": "label"}}},
        {"data": {"values": [{"letter": "E"}]}, "mark": {"type": "text", "fontSize": 12, "fontWeight": "bold", "align": "left", "baseline": "alphabetic", "dx": -124.5, "dy": -24, "color": "#1a1a1a"},
         "encoding": {"x": {"datum": "Ctrl", "type": "nominal"}, "y": {"datum": 20, "type": "quantitative"}, "text": {"field": "letter"}}}
      ]
    },
    {
      "width": 204, "height": 214,
      "layer": [
        {"data": {"name": "bars"}, "transform": [{"filter": "datum.panel === 'F'"}],
         "mark": {"type": "bar", "stroke": "#1a1a1a", "strokeWidth": 2.5},
         "encoding": {
           "x": {"field": "group", "type": "nominal", "scale": {"domain": ["Ctrl", "KO1", "KO2"], "range": [39, 204], "paddingInner": 0.4, "paddingOuter": 0.2}, "axis": {"title": null, "labelPadding": 2}},
           "y": {"field": "mean", "type": "quantitative", "scale": {"domain": [0, 80], "nice": false, "range": [214, 27.3]}, "axis": {"title": "Percentage of ZIKV positive cells (%)", "values": [0, 20, 40, 60, 80], "offset": -39, "titlePadding": 12}},
           "fill": {"condition": {"test": "datum.group === 'KO1'", "value": "#231815"}, "value": "#ffffff"}}},
        {"data": {"name": "bars"}, "transform": [{"filter": "datum.panel === 'F' && datum.group === 'KO2'"}],
         "mark": {"type": "bar", "stroke": "#1a1a1a", "strokeWidth": 2.5,
           "fill": {"gradient": "linear", "x1": 0, "y1": 0, "x2": 0.2431, "y2": 1.1588, "stops": [
             {"offset": 0, "color": "#fff"},
             {"offset": 0.02, "color": "#fff"}, {"offset": 0.02, "color": "#222"}, {"offset": 0.031, "color": "#222"}, {"offset": 0.031, "color": "#fff"},
             {"offset": 0.07, "color": "#fff"}, {"offset": 0.07, "color": "#222"}, {"offset": 0.081, "color": "#222"}, {"offset": 0.081, "color": "#fff"},
             {"offset": 0.12, "color": "#fff"}, {"offset": 0.12, "color": "#222"}, {"offset": 0.131, "color": "#222"}, {"offset": 0.131, "color": "#fff"},
             {"offset": 0.17, "color": "#fff"}, {"offset": 0.17, "color": "#222"}, {"offset": 0.181, "color": "#222"}, {"offset": 0.181, "color": "#fff"},
             {"offset": 0.22, "color": "#fff"}, {"offset": 0.22, "color": "#222"}, {"offset": 0.231, "color": "#222"}, {"offset": 0.231, "color": "#fff"},
             {"offset": 0.27, "color": "#fff"}, {"offset": 0.27, "color": "#222"}, {"offset": 0.281, "color": "#222"}, {"offset": 0.281, "color": "#fff"},
             {"offset": 0.32, "color": "#fff"}, {"offset": 0.32, "color": "#222"}, {"offset": 0.331, "color": "#222"}, {"offset": 0.331, "color": "#fff"},
             {"offset": 0.37, "color": "#fff"}, {"offset": 0.37, "color": "#222"}, {"offset": 0.381, "color": "#222"}, {"offset": 0.381, "color": "#fff"},
             {"offset": 0.42, "color": "#fff"}, {"offset": 0.42, "color": "#222"}, {"offset": 0.431, "color": "#222"}, {"offset": 0.431, "color": "#fff"},
             {"offset": 0.47, "color": "#fff"}, {"offset": 0.47, "color": "#222"}, {"offset": 0.481, "color": "#222"}, {"offset": 0.481, "color": "#fff"},
             {"offset": 0.52, "color": "#fff"}, {"offset": 0.52, "color": "#222"}, {"offset": 0.531, "color": "#222"}, {"offset": 0.531, "color": "#fff"},
             {"offset": 0.57, "color": "#fff"}, {"offset": 0.57, "color": "#222"}, {"offset": 0.581, "color": "#222"}, {"offset": 0.581, "color": "#fff"},
             {"offset": 0.62, "color": "#fff"}, {"offset": 0.62, "color": "#222"}, {"offset": 0.631, "color": "#222"}, {"offset": 0.631, "color": "#fff"},
             {"offset": 0.67, "color": "#fff"}, {"offset": 0.67, "color": "#222"}, {"offset": 0.681, "color": "#222"}, {"offset": 0.681, "color": "#fff"},
             {"offset": 0.72, "color": "#fff"}, {"offset": 0.72, "color": "#222"}, {"offset": 0.731, "color": "#222"}, {"offset": 0.731, "color": "#fff"},
             {"offset": 0.77, "color": "#fff"}, {"offset": 0.77, "color": "#222"}, {"offset": 0.781, "color": "#222"}, {"offset": 0.781, "color": "#fff"},
             {"offset": 0.82, "color": "#fff"}, {"offset": 0.82, "color": "#222"}, {"offset": 0.831, "color": "#222"}, {"offset": 0.831, "color": "#fff"},
             {"offset": 0.87, "color": "#fff"}, {"offset": 0.87, "color": "#222"}, {"offset": 0.881, "color": "#222"}, {"offset": 0.881, "color": "#fff"},
             {"offset": 0.92, "color": "#fff"}, {"offset": 0.92, "color": "#222"}, {"offset": 0.931, "color": "#222"}, {"offset": 0.931, "color": "#fff"},
             {"offset": 0.97, "color": "#fff"}, {"offset": 0.97, "color": "#222"}, {"offset": 0.981, "color": "#222"}, {"offset": 0.981, "color": "#fff"},
             {"offset": 1, "color": "#fff"}]}},
         "encoding": {"x": {"field": "group", "type": "nominal"}, "y": {"field": "mean", "type": "quantitative"}}},
        {"data": {"name": "bars"}, "transform": [{"filter": "datum.panel === 'F'"}], "mark": {"type": "rule", "color": "#1a1a1a", "strokeWidth": 2},
         "encoding": {"x": {"field": "group", "type": "nominal"}, "y": {"field": "mean", "type": "quantitative"}, "y2": {"field": "upper"}}},
        {"data": {"name": "bars"}, "transform": [{"filter": "datum.panel === 'F'"}], "mark": {"type": "tick", "color": "#1a1a1a", "thickness": 2, "size": 15},
         "encoding": {"x": {"field": "group", "type": "nominal"}, "y": {"field": "upper", "type": "quantitative"}}},
        {"data": {"name": "sig"}, "transform": [{"filter": "datum.panel === 'F'"}], "mark": {"type": "rule", "color": "#1a1a1a", "strokeWidth": 2},
         "encoding": {"x": {"field": "from", "type": "nominal"}, "x2": {"field": "to"}, "y": {"field": "level", "type": "quantitative"}}},
        {"data": {"name": "sig"}, "transform": [{"filter": "datum.panel === 'F'"}], "mark": {"type": "rule", "color": "#1a1a1a", "strokeWidth": 2, "y2Offset": 7.5},
         "encoding": {"x": {"field": "from", "type": "nominal"}, "y": {"field": "level", "type": "quantitative"}, "y2": {"field": "level"}}},
        {"data": {"name": "sig"}, "transform": [{"filter": "datum.panel === 'F'"}], "mark": {"type": "rule", "color": "#1a1a1a", "strokeWidth": 2, "y2Offset": 7.5},
         "encoding": {"x": {"field": "to", "type": "nominal"}, "y": {"field": "level", "type": "quantitative"}, "y2": {"field": "level"}}},
        {"data": {"name": "sig"}, "transform": [{"filter": "datum.panel === 'F' && datum.to === 'KO1'"}], "mark": {"type": "text", "fontSize": 11, "dx": 27.5, "dy": -3, "baseline": "alphabetic", "color": "#1a1a1a"},
         "encoding": {"x": {"field": "from", "type": "nominal"}, "y": {"field": "level", "type": "quantitative"}, "text": {"field": "label"}}},
        {"data": {"name": "sig"}, "transform": [{"filter": "datum.panel === 'F' && datum.to === 'KO2'"}], "mark": {"type": "text", "fontSize": 11, "dx": 55, "dy": -3, "baseline": "alphabetic", "color": "#1a1a1a"},
         "encoding": {"x": {"field": "from", "type": "nominal"}, "y": {"field": "level", "type": "quantitative"}, "text": {"field": "label"}}}
      ]
    }
  ],
  "config": {
    "font": "Liberation Sans",
    "view": {"stroke": null},
    "axis": {"grid": false, "domainColor": "#1a1a1a", "domainWidth": 2, "tickColor": "#1a1a1a", "tickWidth": 2, "tickSize": 5,
             "labelFont": "Liberation Sans", "labelFontSize": 14, "labelFontWeight": "bold", "labelColor": "#1a1a1a", "labelPadding": 1,
             "titleFont": "Liberation Sans", "titleFontSize": 13, "titleFontWeight": "bold", "titleColor": "#1a1a1a"},
    "axisX": {"labelAngle": 0, "labelPadding": 2},
    "text": {"font": "Liberation Sans"},
    "title": {"font": "Liberation Sans"}
  }
}
